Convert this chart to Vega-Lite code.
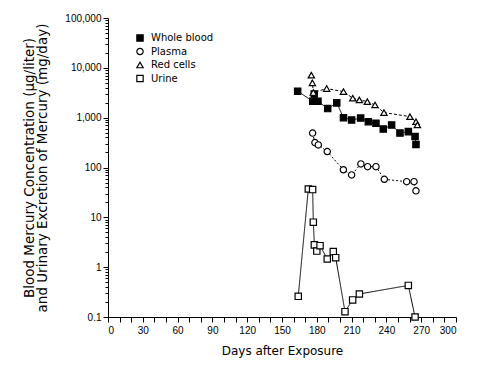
{
  "$schema": "https://vega.github.io/schema/vega-lite/v6.json",
  "width": 348,
  "height": 299,
  "autosize": {"type": "none"},
  "padding": {"left": 108, "top": 18, "right": 28, "bottom": 59},
  "background": "white",
  "config": {
    "view": {"stroke": null},
    "font": "Liberation Sans",
    "axis": {"domainColor": "black", "tickColor": "black", "labelColor": "black", "titleColor": "black", "grid": false},
    "legend": {"labelColor": "black"}
  },
  "data": {"values": [
    {"series": "Whole blood", "day": 163.5, "value": 3400},
    {"series": "Whole blood", "day": 176.5, "value": 2140},
    {"series": "Whole blood", "day": 177.8, "value": 3000},
    {"series": "Whole blood", "day": 181, "value": 2140},
    {"series": "Whole blood", "day": 189.4, "value": 1520},
    {"series": "Whole blood", "day": 197.2, "value": 1980},
    {"series": "Whole blood", "day": 203, "value": 1000},
    {"series": "Whole blood", "day": 210, "value": 900},
    {"series": "Whole blood", "day": 217.8, "value": 980},
    {"series": "Whole blood", "day": 224.4, "value": 830},
    {"series": "Whole blood", "day": 231, "value": 775},
    {"series": "Whole blood", "day": 237.3, "value": 590},
    {"series": "Whole blood", "day": 244.5, "value": 715},
    {"series": "Whole blood", "day": 251.7, "value": 490},
    {"series": "Whole blood", "day": 258.9, "value": 525},
    {"series": "Whole blood", "day": 264.7, "value": 420},
    {"series": "Whole blood", "day": 265.5, "value": 290},
    {"series": "Plasma", "day": 176.4, "value": 490},
    {"series": "Plasma", "day": 178.4, "value": 316},
    {"series": "Plasma", "day": 181.3, "value": 284},
    {"series": "Plasma", "day": 189, "value": 209},
    {"series": "Plasma", "day": 202.9, "value": 90},
    {"series": "Plasma", "day": 210, "value": 71},
    {"series": "Plasma", "day": 218, "value": 118},
    {"series": "Plasma", "day": 223.8, "value": 104},
    {"series": "Plasma", "day": 231, "value": 104},
    {"series": "Plasma", "day": 238.2, "value": 58},
    {"series": "Plasma", "day": 257.5, "value": 52},
    {"series": "Plasma", "day": 263.8, "value": 52},
    {"series": "Plasma", "day": 265.5, "value": 34},
    {"series": "Red cells", "day": 175.3, "value": 7130},
    {"series": "Red cells", "day": 176.2, "value": 5000},
    {"series": "Red cells", "day": 177, "value": 3200},
    {"series": "Red cells", "day": 188.5, "value": 3840},
    {"series": "Red cells", "day": 203, "value": 3340},
    {"series": "Red cells", "day": 211, "value": 2460},
    {"series": "Red cells", "day": 216.7, "value": 2275},
    {"series": "Red cells", "day": 223.6, "value": 2100},
    {"series": "Red cells", "day": 230.2, "value": 1800},
    {"series": "Red cells", "day": 237.9, "value": 1265},
    {"series": "Red cells", "day": 260.3, "value": 1050},
    {"series": "Red cells", "day": 265.5, "value": 830},
    {"series": "Red cells", "day": 266.7, "value": 715},
    {"series": "Urine", "day": 164, "value": 0.26},
    {"series": "Urine", "day": 172.7, "value": 37},
    {"series": "Urine", "day": 176.4, "value": 36},
    {"series": "Urine", "day": 177, "value": 8.0},
    {"series": "Urine", "day": 177.9, "value": 2.8},
    {"series": "Urine", "day": 180, "value": 2.1},
    {"series": "Urine", "day": 182.8, "value": 2.7},
    {"series": "Urine", "day": 189, "value": 1.46},
    {"series": "Urine", "day": 194.2, "value": 2.05},
    {"series": "Urine", "day": 196.3, "value": 1.55},
    {"series": "Urine", "day": 204.3, "value": 0.128},
    {"series": "Urine", "day": 210.9, "value": 0.22},
    {"series": "Urine", "day": 216.7, "value": 0.29},
    {"series": "Urine", "day": 258.9, "value": 0.43},
    {"series": "Urine", "day": 264.7, "value": 0.1}
  ]},
  "encoding": {
    "x": {
      "field": "day", "type": "quantitative",
      "scale": {"domain": [0, 300], "nice": false},
      "axis": {
        "title": "Days after Exposure",
        "titleFont": "DejaVu Sans", "titleFontSize": 12, "titleFontWeight": "normal", "titlePadding": 10,
        "values": [0,10,20,30,40,50,60,70,80,90,100,110,120,130,140,150,160,170,180,190,200,210,220,230,240,250,260,270,280,290,300],
        "labelExpr": "datum.value % 30 == 0 ? datum.label : ''",
        "labelFontSize": 10, "labelOverlap": false, "labelPadding": 3,
        "tickSize": 5
      }
    },
    "y": {
      "field": "value", "type": "quantitative",
      "scale": {"type": "log", "domain": [0.1, 100000], "nice": false},
      "axis": {
        "title": ["Blood Mercury Concentration (µg/liter)", "and Urinary Excretion of Mercury (mg/day)"],
        "titleFont": "DejaVu Sans", "titleFontSize": 13.5, "titleFontWeight": "normal",
        "titleX": -72, "titleLineHeight": 13.5,
        "values": [0.1,0.2,0.3,0.4,0.5,0.6,0.7,0.8,0.9,1,2,3,4,5,6,7,8,9,10,20,30,40,50,60,70,80,90,100,200,300,400,500,600,700,800,900,1000,2000,3000,4000,5000,6000,7000,8000,9000,10000,20000,30000,40000,50000,60000,70000,80000,90000,100000],
        "labelExpr": "abs(log(datum.value)/LN10 - round(log(datum.value)/LN10)) < 0.000001 ? (datum.value < 1 ? '0.1' : format(datum.value, ',')) : ''",
        "labelFontSize": 10, "labelOverlap": false, "labelPadding": 2,
        "tickSize": {"condition": {"test": "abs(log(datum.value)/LN10 - round(log(datum.value)/LN10)) < 0.000001", "value": 5}, "value": 3}
      }
    }
  },
  "layer": [
    {
      "mark": {"type": "line", "color": "black"},
      "encoding": {
        "detail": {"field": "series"},
        "strokeDash": {"field": "series", "type": "nominal", "scale": {"domain": ["Whole blood", "Plasma", "Red cells", "Urine"], "range": [[1, 0], [2, 2], [3, 2], [1, 0]]}, "legend": null},
        "strokeWidth": {"field": "series", "type": "nominal", "scale": {"domain": ["Whole blood", "Plasma", "Red cells", "Urine"], "range": [1, 1, 1, 2.5]}, "legend": null}
      }
    },
    {
      "mark": {"type": "point", "strokeWidth": 1.2, "opacity": 1, "size": 40},
      "encoding": {
        "stroke": {"field": "series", "type": "nominal", "scale": {"domain": ["Whole blood", "Plasma", "Red cells", "Urine"], "range": ["black", "black", "black", "black"]}, "title": null},
        "shape": {"field": "series", "type": "nominal", "scale": {"domain": ["Whole blood", "Plasma", "Red cells", "Urine"], "range": ["square", "circle", "triangle-up", "square"]}, "title": null,
          "legend": {"orient": "none", "legendX": 27, "legendY": 15, "labelFont": "DejaVu Sans", "labelFontSize": 10, "symbolSize": 40, "symbolStrokeWidth": 1.2, "rowPadding": 1.5, "labelOffset": 6}},
        "fill": {"field": "series", "type": "nominal", "scale": {"domain": ["Whole blood", "Plasma", "Red cells", "Urine"], "range": ["black", "white", "white", "white"]}, "title": null}
      }
    }
  ],
  "resolve": {"scale": {"strokeDash": "independent", "strokeWidth": "independent"}}
}
